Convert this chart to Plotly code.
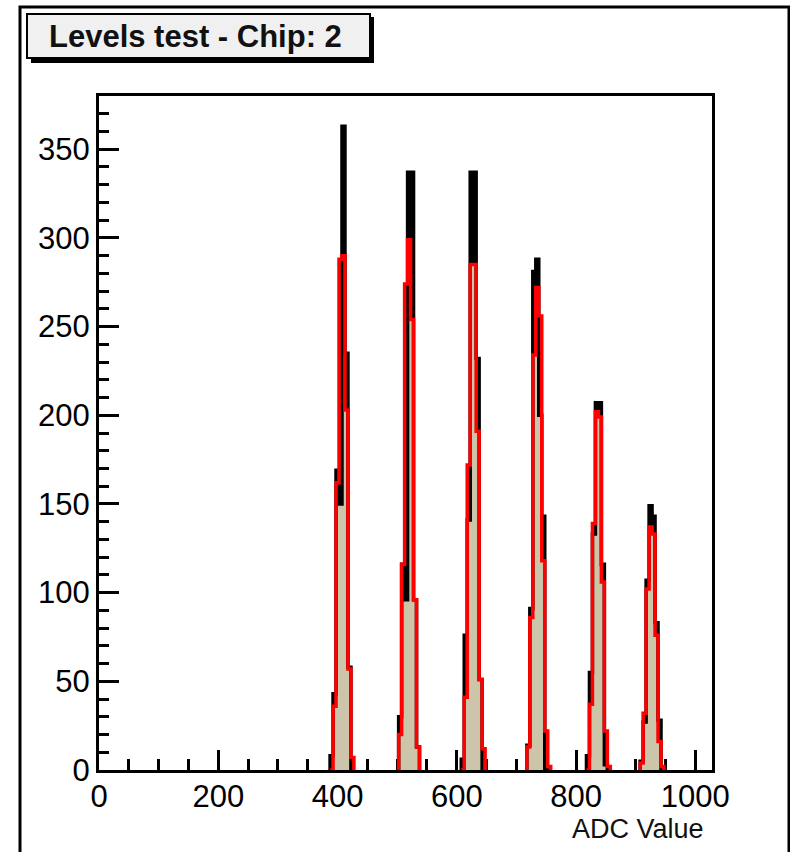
import plotly.graph_objects as go

# ---------------- data ----------------
BIN_WIDTH = 5
bin_centers = [390, 395, 400, 405, 410, 415, 420, 425,
               505, 510, 515, 520, 525, 530, 535,
               610, 615, 620, 625, 630, 635, 640, 645,
               720, 725, 730, 735, 740, 745, 750, 755,
               820, 825, 830, 835, 840, 845, 850, 855,
               910, 915, 920, 925, 930, 935, 940, 945]
black_counts = [8, 43, 169, 150, 363, 235, 58, 0,
                30, 116, 96, 337, 337, 96, 13,
                6, 76, 141, 337, 337, 232, 51, 0,
                14, 91, 281, 288, 200, 143, 0, 0,
                8, 55, 133, 207, 207, 116, 3, 0,
                5, 27, 107, 149, 143, 83, 28, 0]
red_counts = [0, 36, 162, 288, 290, 203, 57, 7,
              20, 116, 274, 299, 254, 96, 13,
              0, 41, 172, 285, 285, 191, 51, 12,
              13, 86, 234, 272, 256, 118, 22, 2,
              0, 37, 139, 202, 199, 106, 22, 2,
              4, 32, 102, 137, 133, 76, 16, 2]
x_major_ticks = [0, 200, 400, 600, 800, 1000]
y_major_ticks = [0, 50, 100, 150, 200, 250, 300, 350]
title_text = "Levels test - Chip: 2"
x_title = "ADC Value"

# ---------------- layout geometry (pixels) ----------------
W_FIG, H_FIG = 790, 852
ML, MR, MT, MB = 99, 78, 96, 82
PW = W_FIG - ML - MR
PH = H_FIG - MT - MB


def px2x(px):
    return (px - ML) / PW


def py2y(py):
    return (H_FIG - MB - py) / PH


def step_xy(centers, counts, w):
    xs, ys = [], []
    groups = []
    cur = []
    for c, v in zip(centers, counts):
        if cur and abs(c - cur[-1][0] - w) > 1e-9:
            groups.append(cur)
            cur = []
        cur.append((c, v))
    if cur:
        groups.append(cur)
    for g in groups:
        xs.append(g[0][0] - w / 2)
        ys.append(0)
        for c, v in g:
            xs += [c - w / 2, c + w / 2]
            ys += [v, v]
        xs.append(g[-1][0] + w / 2)
        ys.append(0)
        xs.append(None)
        ys.append(None)
    return xs, ys


fig = go.Figure()

# tan filled histogram (black one)
fig.add_trace(go.Bar(x=bin_centers, y=black_counts, width=BIN_WIDTH,
                     marker=dict(color="#ccc5a9", line=dict(width=0)),
                     hoverinfo="skip", showlegend=False))

# solid bands between the two histograms (thick outlines merge in narrow bins)
red_base = [a for a, b in zip(black_counts, red_counts)]
red_hgt = [max(b - a, 0) for a, b in zip(black_counts, red_counts)]
fig.add_trace(go.Bar(x=bin_centers, y=red_hgt, base=red_base, width=BIN_WIDTH,
                     marker=dict(color="#ff0000", line=dict(width=0)),
                     hoverinfo="skip", showlegend=False))
blk_base = [b for a, b in zip(black_counts, red_counts)]
blk_hgt = [max(a - b, 0) for a, b in zip(black_counts, red_counts)]
fig.add_trace(go.Bar(x=bin_centers, y=blk_hgt, base=blk_base, width=BIN_WIDTH,
                     marker=dict(color="black", line=dict(width=0)),
                     hoverinfo="skip", showlegend=False))

bx, by = step_xy(bin_centers, black_counts, BIN_WIDTH)
fig.add_trace(go.Scatter(x=bx, y=by, mode="lines",
                         line=dict(color="black", width=3.5),
                         hoverinfo="skip", showlegend=False))
rx, ry = step_xy(bin_centers, red_counts, BIN_WIDTH)
fig.add_trace(go.Scatter(x=rx, y=ry, mode="lines",
                         line=dict(color="#ff0000", width=3.5),
                         hoverinfo="skip", showlegend=False))

tick_font = dict(family="Liberation Sans, Arial, sans-serif", size=31, color="black")

fig.update_xaxes(range=[0, 1028], showline=True, linecolor="black", linewidth=3,
                 mirror=True, showgrid=False, zeroline=False,
                 tickmode="array", tickvals=x_major_ticks,
                 ticktext=[str(v) for v in x_major_ticks],
                 ticks="inside", ticklen=20, tickwidth=3, tickcolor="black",
                 minor=dict(dtick=50, tick0=0, ticks="inside", ticklen=11,
                            tickwidth=3, tickcolor="black", showgrid=False),
                 tickfont=tick_font, ticklabelstandoff=-3, layer="below traces")
fig.update_yaxes(range=[0, 380], showline=True, linecolor="black", linewidth=3,
                 mirror=True, showgrid=False, zeroline=False,
                 tickmode="array", tickvals=y_major_ticks,
                 ticktext=[str(v) for v in y_major_ticks],
                 ticks="inside", ticklen=20, tickwidth=3, tickcolor="black",
                 minor=dict(dtick=10, tick0=0, ticks="inside", ticklen=10,
                            tickwidth=3, tickcolor="black", showgrid=False),
                 tickfont=tick_font, layer="below traces")

shapes = [
    # outer canvas frame
    dict(type="rect", xref="paper", yref="paper",
         x0=px2x(20), x1=px2x(789), y0=py2y(870), y1=py2y(7),
         line=dict(color="black", width=3), fillcolor="rgba(0,0,0,0)"),
    # title box shadow
    dict(type="rect", xref="paper", yref="paper",
         x0=px2x(31), x1=px2x(374), y0=py2y(63), y1=py2y(17),
         line=dict(color="black", width=0), fillcolor="black"),
    # title box
    dict(type="rect", xref="paper", yref="paper",
         x0=px2x(27), x1=px2x(370), y0=py2y(58), y1=py2y(14),
         line=dict(color="black", width=2), fillcolor="#f0f0f0"),
]

annotations = [
    dict(text="<b>" + title_text + "</b>", xref="paper", yref="paper",
         x=px2x(195), y=py2y(37), xanchor="center", yanchor="middle",
         showarrow=False,
         font=dict(family="Liberation Sans, Arial, sans-serif", size=31, color="#111111")),
    dict(text=x_title, xref="paper", yref="paper",
         x=px2x(706), y=py2y(829), xanchor="right", yanchor="middle",
         showarrow=False,
         font=dict(family="Liberation Sans, Arial, sans-serif", size=27, color="#111111")),
]

fig.update_layout(width=W_FIG, height=H_FIG,
                  margin=dict(l=ML, r=MR, t=MT, b=MB, pad=0),
                  paper_bgcolor="white", plot_bgcolor="white",
                  barmode="overlay", bargap=0,
                  shapes=shapes, annotations=annotations,
                  showlegend=False)

fig.write_html("out.html")
